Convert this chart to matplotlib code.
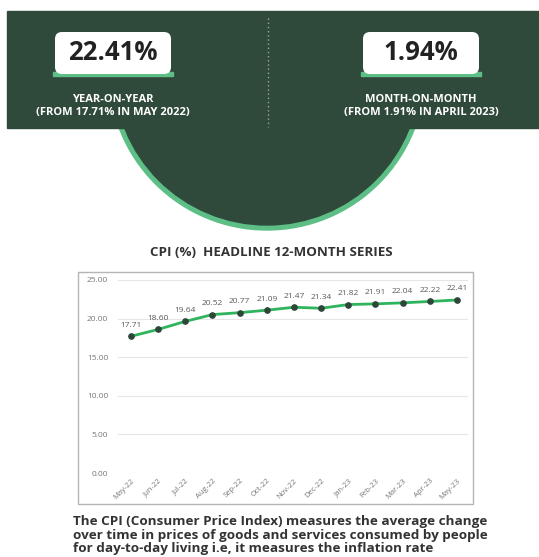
import matplotlib
matplotlib.use("Agg")
import matplotlib.pyplot as plt
from matplotlib.patches import Rectangle, Circle, FancyBboxPatch

plt.rcParams['font.family'] = ['Open Sans', 'DejaVu Sans']

# data
months = ['May-22', 'Jun-22', 'Jul-22', 'Aug-22', 'Sep-22', 'Oct-22', 'Nov-22',
          'Dec-22', 'Jan-23', 'Feb-23', 'Mar-23', 'Apr-23', 'May-23']
cpi = [17.71, 18.60, 19.64, 20.52, 20.77, 21.09, 21.47, 21.34, 21.82, 21.91, 22.04, 22.22, 22.41]
yticks = [0, 5, 10, 15, 20, 25]
yoy_value = '22.41%'
mom_value = '1.94%'

DARK = '#2f4a3b'
LIGHT = '#5dbf86'
LINE = '#2fb35c'

W, H = 539, 557
fig = plt.figure(figsize=(W / 100, H / 100), dpi=100)
fig.patch.set_facecolor('white')

# background layer in pixel coords
bg = fig.add_axes([0, 0, 1, 1])
bg.set_xlim(0, W)
bg.set_ylim(H, 0)
bg.axis('off')

# semicircle with light ring, hidden above the band
bg.add_patch(Circle((267, 72), 158, color=LIGHT, zorder=1))
bg.add_patch(Circle((267, 72), 153, color=DARK, zorder=2))
bg.add_patch(Rectangle((0, 0), W, 11, color='white', zorder=2.5))
bg.add_patch(Rectangle((7, 11), W - 7, 117, color=DARK, zorder=3))
# dotted divider
bg.plot([268, 268], [18, 127], color='#9aa59f', lw=1, ls=(0, (1, 2)), zorder=4)

# value boxes
for cx, val, l1, l2 in [(113, yoy_value, 'YEAR-ON-YEAR', '(FROM 17.71% IN MAY 2022)'),
                        (421, mom_value, 'MONTH-ON-MONTH', '(FROM 1.91% IN APRIL 2023)')]:
    bg.add_patch(Rectangle((cx - 60, 72), 120, 4, color=LIGHT, zorder=4))
    bg.add_patch(FancyBboxPatch((cx - 58, 32), 116, 42, boxstyle='round,pad=0,rounding_size=7',
                                fc='white', ec='none', zorder=5))
    bg.text(cx, 53, val, ha='center', va='center', fontsize=18.5, fontweight='bold',
            color='#222222', zorder=6)
    bg.text(cx, 99, l1, ha='center', va='center', fontsize=8, fontweight='bold', color='white', zorder=6)
    bg.text(cx, 112, l2, ha='center', va='center', fontsize=8, fontweight='bold', color='white', zorder=6)

# chart title and frame
bg.text(271, 252, 'CPI (%)  HEADLINE 12-MONTH SERIES', ha='center', va='center',
        fontsize=9.6, fontweight='bold', color='#333333')
bg.add_patch(Rectangle((78, 272), 395, 232, fc='white', ec='#b5b5b5', lw=1, zorder=1))

# footer text
bg.text(73, 535, 'The CPI (Consumer Price Index) measures the average change\n'
        'over time in prices of goods and services consumed by people\n'
        'for day-to-day living i.e, it measures the inflation rate',
        ha='left', va='center', fontsize=9.7, fontweight='bold', color='#333333',
        linespacing=1.02)

# line chart
ax = fig.add_axes([118 / W, 1 - 473 / H, 350 / W, 193 / H])
ax.set_facecolor('none')
x = list(range(len(months)))
ax.plot(x, cpi, color=LINE, lw=2, marker='o', ms=3.8, mfc='#2d4638', mec='#2d4638', zorder=3)
for xi, v in zip(x, cpi):
    ax.annotate(f'{v:.2f}', (xi, v), xytext=(0, 8), textcoords='offset points',
                ha='center', va='center', fontsize=6, color='#5a5a5a')
ax.set_xlim(-0.478, 12.405)
ax.set_ylim(0, 25)
ax.set_yticks(yticks)
ax.set_yticklabels([f'{t:.2f}' for t in yticks], fontsize=6, color='#777777')
ax.set_xticks(x)
ax.set_xticklabels(months, rotation=45, ha='right', rotation_mode='anchor',
                   fontsize=5.5, color='#777777')
ax.tick_params(axis='y', length=0, pad=7)
ax.tick_params(axis='x', length=0, pad=3)
ax.grid(axis='y', color='#e6e6e6', lw=0.8)
for s in ax.spines.values():
    s.set_visible(False)

fig.savefig('out.png', dpi=100)
